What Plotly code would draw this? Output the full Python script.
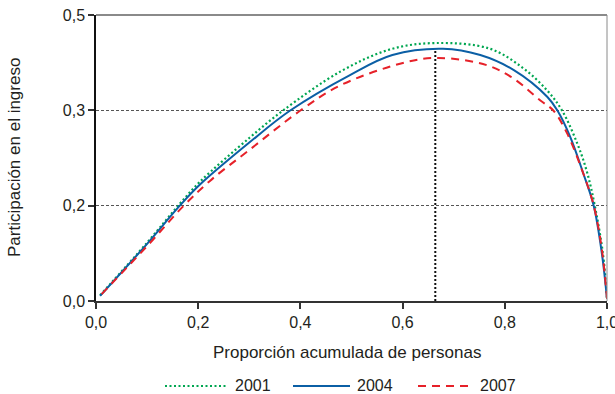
import plotly.graph_objects as go

# ---- data ----
p_2001 = [0.008, 0.10, 0.164, 0.204, 0.30, 0.366, 0.478, 0.576, 0.664, 0.771, 0.836, 0.883, 0.912, 0.942, 0.961, 0.976, 0.992, 1.0]
v_2001 = [0.010, 0.102, 0.170, 0.209, 0.285, 0.333, 0.401, 0.440, 0.451, 0.441, 0.407, 0.368, 0.333, 0.275, 0.225, 0.167, 0.083, 0.004]

p_2004 = [0.008, 0.10, 0.164, 0.204, 0.30, 0.38, 0.497, 0.58, 0.679, 0.752, 0.817, 0.883, 0.903, 0.928, 0.954, 0.974, 0.990, 1.0]
v_2004 = [0.009, 0.100, 0.1667, 0.204, 0.277, 0.333, 0.395, 0.430, 0.441, 0.430, 0.404, 0.357, 0.333, 0.287, 0.222, 0.1667, 0.083, 0.004]

p_2007 = [0.011, 0.10, 0.17, 0.223, 0.30, 0.40, 0.478, 0.609, 0.67, 0.766, 0.817, 0.869, 0.895, 0.922, 0.954, 0.974, 0.990, 1.0]
v_2007 = [0.012, 0.096, 0.165, 0.210, 0.264, 0.333, 0.377, 0.418, 0.425, 0.412, 0.389, 0.351, 0.333, 0.293, 0.222, 0.167, 0.09, 0.004]

series_names = ["2001", "2004", "2007"]
series_colors = ["#00a651", "#0b5fa5", "#e62129"]
series_dash = ["2px,2.5px", "solid", "8px,6px"]

mean_p = 0.664
mean_top = 0.437

x_ticks = [0, 0.2, 0.4, 0.6, 0.8, 1.0]
x_ticktext = ["0,0", "0,2", "0,4", "0,6", "0,8", "1,0"]
y_ticks = [0, 1/6, 1/3, 0.5]
y_ticktext = ["0,0", "0,2", "0,3", "0,5"]

FONT = "Liberation Sans, Arial, sans-serif"
TXT = "#231f20"

W, H = 615, 394
ML, MR, MT, MB = 96, 8, 15, 93
PW = W - ML - MR
PH = H - MT - MB

fig = go.Figure()
fig.add_trace(go.Scatter(x=[mean_p, mean_p], y=[0, mean_top], mode="lines",
                         line=dict(color="#111111", width=2, dash="2px,2px"),
                         showlegend=False, hoverinfo="skip"))
for p, v, name, col, dash in zip([p_2001, p_2004, p_2007], [v_2001, v_2004, v_2007],
                                 series_names, series_colors, series_dash):
    fig.add_trace(go.Scatter(x=p, y=v, mode="lines", name=name, line_shape="spline",
                             line=dict(color=col, width=2.2 if name == "2001" else 2, dash=dash),
                             showlegend=False))

# frame lines top and right
fig.add_shape(type="line", xref="paper", yref="paper", x0=0, x1=1, y0=1, y1=1,
              line=dict(color="#8a8a8a", width=2))
fig.add_shape(type="line", xref="paper", yref="paper", x0=1, x1=1, y0=0, y1=1,
              line=dict(color="#8a8a8a", width=1))

# manual legend (pixel layout -> paper coords)
def px2x(px):
    return (px - ML) / PW

leg_y = (H - MB - 386) / PH
leg_items = [(165, 227, 233), (293, 350, 355), (418, 472, 478)]
for (a, b, t), name, col, dash in zip(leg_items, series_names, series_colors, series_dash):
    fig.add_shape(type="line", xref="paper", yref="paper", x0=px2x(a), x1=px2x(b),
                  y0=leg_y, y1=leg_y, line=dict(color=col, width=2.2 if name == "2001" else 2, dash=dash))
    fig.add_annotation(xref="paper", yref="paper", x=px2x(t), y=leg_y, text=name,
                       showarrow=False, xanchor="left", yanchor="middle",
                       font=dict(size=16, color=TXT))

# axis titles
fig.add_annotation(xref="paper", yref="paper", x=px2x(347), y=0, yshift=-51,
                   text="Proporción acumulada de personas", showarrow=False,
                   xanchor="center", yanchor="middle", font=dict(size=17, color=TXT))
fig.add_annotation(xref="paper", yref="paper", x=0, xshift=14 - ML, y=0.5,
                   text="Participación en el ingreso", showarrow=False, textangle=-90,
                   xanchor="center", yanchor="middle", font=dict(size=17, color=TXT))

fig.update_layout(
    width=W, height=H,
    margin=dict(l=ML, r=MR, t=MT, b=MB, autoexpand=False),
    paper_bgcolor="white", plot_bgcolor="white",
    font=dict(family=FONT, size=16, color=TXT),
    showlegend=False,
    xaxis=dict(range=[0, 1], tickvals=x_ticks, ticktext=x_ticktext, automargin=False,
               ticklabeloverflow="allow",
               showgrid=False, zeroline=False, showline=True, linecolor="#333333", linewidth=2,
               ticks="outside", ticklen=6, tickwidth=1.5, tickcolor="#333333",
               tickfont=dict(size=16)),
    yaxis=dict(range=[0, 0.5], tickvals=y_ticks, ticktext=y_ticktext, automargin=False,
               showgrid=True, gridcolor="#555555", gridwidth=1, griddash="3px,2px",
               zeroline=False, showline=True, linecolor="#111111", linewidth=1.5,
               ticks="outside", ticklen=6, tickwidth=1.5, tickcolor="#333333",
               tickfont=dict(size=16)),
)

fig.write_html("out.html", config={"displayModeBar": False},
               post_script="document.body.style.margin='0px';document.body.style.overflow='hidden';")
